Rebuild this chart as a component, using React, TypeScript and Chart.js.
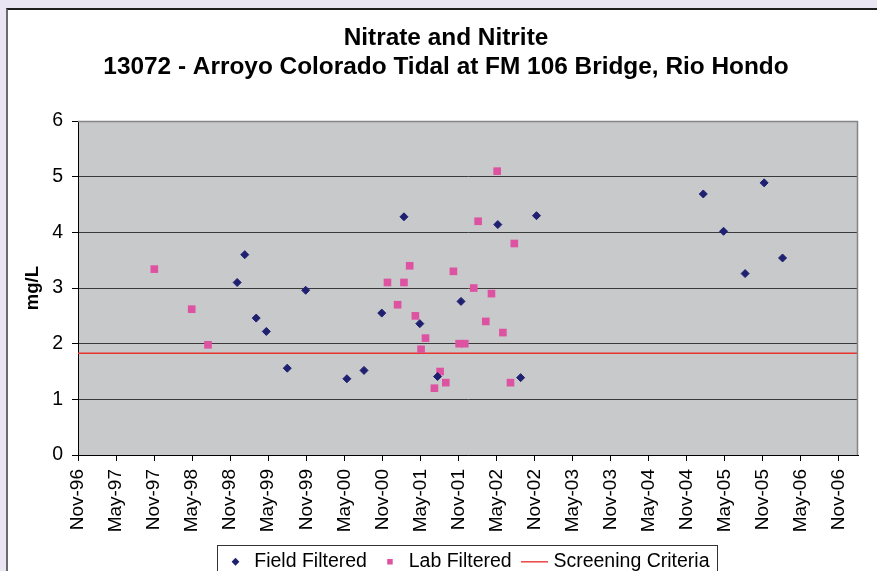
import React, { useEffect, useRef } from 'react';
import { Chart, registerables } from 'chart.js';

Chart.register(...registerables);

const FONT = '"Liberation Sans", Arial, Helvetica, sans-serif';

const titleLines = ['Nitrate and Nitrite', '13072 - Arroyo Colorado Tidal at FM 106 Bridge, Rio Hondo'];
const yAxisTitle = 'mg/L';

const tickLabels = [
  'Nov-96', 'May-97', 'Nov-97', 'May-98', 'Nov-98', 'May-99', 'Nov-99', 'May-00', 'Nov-00', 'May-01',
  'Nov-01', 'May-02', 'Nov-02', 'May-03', 'Nov-03', 'May-04', 'Nov-04', 'May-05', 'Nov-05', 'May-06', 'Nov-06',
];

const fieldDates = [
  '1998-12-04', '1999-01-10', '1999-03-04', '1999-04-22', '1999-08-01', '1999-10-28', '2000-05-13',
  '2000-08-04', '2000-10-28', '2001-02-13', '2001-04-28', '2001-07-22', '2001-11-13', '2002-05-07',
  '2002-08-25', '2002-11-10', '2005-01-19', '2005-04-25', '2005-08-07', '2005-11-07', '2006-02-04',
];
const fieldValues = [
  3.10, 3.60, 2.46, 2.22, 1.56, 2.96, 1.37,
  1.52, 2.55, 4.28, 2.36, 1.41, 2.76, 4.14,
  1.39, 4.30, 4.69, 4.02, 3.26, 4.89, 3.54,
];

const labDates = [
  '1997-11-02', '1998-04-29', '1998-07-16', '2000-11-25', '2001-01-13', '2001-02-13', '2001-03-10',
  '2001-04-07', '2001-05-04', '2001-05-25', '2001-07-07', '2001-08-04', '2001-09-01', '2001-10-07',
  '2001-11-04', '2001-12-01', '2002-01-13', '2002-02-04', '2002-03-10', '2002-04-07', '2002-05-04',
  '2002-06-01', '2002-07-07', '2002-07-25',
];
const labValues = [
  3.34, 2.62, 1.98, 3.10, 2.70, 3.10, 3.40,
  2.50, 1.90, 2.10, 1.20, 1.50, 1.30, 3.30,
  2.00, 2.00, 3.00, 4.20, 2.40, 2.90, 5.10,
  2.20, 1.30, 3.80,
];

const screeningValue = 1.83;

// axis in months since Nov-1996; axis ends about Feb-2007
const X_MIN = 0;
const X_MAX = 123;
const Y_MIN = 0;
const Y_MAX = 6;

const toMonths = (s: string) => {
  const [y, m, d] = s.split('-').map(Number);
  return (y - 1996) * 12 + (m - 11) + (d - 1) / 30;
};

export default function App() {
  const ref = useRef<HTMLCanvasElement | null>(null);

  useEffect(() => {
    if (!ref.current) return;

    const lineImg = document.createElement('canvas');
    lineImg.width = 27;
    lineImg.height = 2;
    const lctx = lineImg.getContext('2d')!;
    lctx.fillStyle = '#E8362F';
    lctx.fillRect(0, 0, 27, 1.5);

    const framePlugin = {
      id: 'frame',
      beforeDraw(chart: any) {
        const { ctx, chartArea } = chart;
        ctx.save();
        ctx.fillStyle = '#C8C9CB';
        ctx.fillRect(chartArea.left, chartArea.top, chartArea.right - chartArea.left, chartArea.bottom - chartArea.top);
        ctx.restore();
      },
      afterDraw(chart: any) {
        const { ctx, chartArea } = chart;
        ctx.save();
        ctx.strokeStyle = '#858585';
        ctx.lineWidth = 1.5;
        ctx.beginPath();
        ctx.moveTo(chartArea.left, chartArea.top + 0.5);
        ctx.lineTo(chartArea.right - 0.5, chartArea.top + 0.5);
        ctx.lineTo(chartArea.right - 0.5, chartArea.bottom);
        ctx.stroke();
        const hb = chart.legend && chart.legend.legendHitBoxes;
        if (hb && hb.length) {
          const first = hb[0];
          const last = hb[hb.length - 1];
          const left = Math.round(first.left - 10) + 0.5;
          const right = Math.round(last.left + last.width + 8) + 0.5;
          const top = Math.round(first.top - 7) + 0.5;
          ctx.strokeStyle = '#333';
          ctx.lineWidth = 1;
          ctx.strokeRect(left, top, right - left, 80);
        }
        ctx.restore();
      },
    };

    const chart = new Chart(ref.current, {
      type: 'scatter',
      data: {
        datasets: [
          {
            label: 'Field Filtered',
            data: fieldDates.map((d, i) => ({ x: toMonths(d), y: fieldValues[i] })),
            pointStyle: 'rectRot',
            pointRadius: 4,
            pointHoverRadius: 4,
            backgroundColor: '#1F2070',
            borderColor: '#1F2070',
            borderWidth: 1,
          },
          {
            label: 'Lab Filtered',
            data: labDates.map((d, i) => ({ x: toMonths(d), y: labValues[i] })),
            pointStyle: 'rect',
            pointRadius: 5.4,
            pointHoverRadius: 5.4,
            backgroundColor: '#DD52A1',
            borderColor: '#DD52A1',
            borderWidth: 0,
          },
          {
            type: 'line',
            label: 'Screening Criteria',
            data: [
              { x: X_MIN, y: screeningValue },
              { x: X_MAX, y: screeningValue },
            ],
            showLine: true,
            borderColor: '#E8362F',
            backgroundColor: '#E8362F',
            borderWidth: 1.5,
            pointRadius: 0,
            pointHoverRadius: 0,
            fill: false,
          } as any,
        ],
      },
      options: {
        animation: false,
        responsive: false,
        devicePixelRatio: 1,
        events: [],
        layout: { padding: { left: 34, right: 19, top: 0, bottom: 0.5 } },
        scales: {
          x: {
            type: 'linear',
            min: X_MIN,
            max: X_MAX,
            afterBuildTicks: (s: any) => {
              s.ticks = tickLabels.map((_, i) => ({ value: i * 6 }));
            },
            afterFit: (s: any) => {
              s.height = 83;
            },
            ticks: {
              autoSkip: false,
              maxRotation: 90,
              minRotation: 90,
              padding: 8,
              color: '#000',
              font: { family: FONT, size: 19 },
              callback: (v: any) => tickLabels[Math.round(Number(v) / 6)] ?? '',
            },
            grid: { drawOnChartArea: false, drawTicks: true, tickLength: 6, tickColor: '#000' },
            border: { display: true, color: '#000', width: 1 },
          },
          y: {
            min: Y_MIN,
            max: Y_MAX,
            afterFit: (s: any) => {
              s.width = 44;
            },
            ticks: {
              stepSize: 1,
              padding: 9,
              color: '#000',
              font: { family: FONT, size: 19.5 },
            },
            grid: {
              color: (c: any) => (c.tick && c.tick.value === Y_MAX ? '#8a8a8a' : '#3a3a3a'),
              tickColor: '#000',
              tickLength: 6,
              lineWidth: 1,
            },
            border: { display: true, color: '#000', width: 1 },
            title: {
              display: true,
              text: yAxisTitle,
              color: '#000',
              font: { family: FONT, size: 18.5, weight: 'bold' },
              padding: { top: -12, bottom: 0 },
            },
          },
        },
        plugins: {
          title: {
            display: true,
            text: titleLines,
            color: '#000',
            font: { family: FONT, size: 24.4, weight: 'bold', lineHeight: 1.19 },
            padding: { top: 24, bottom: 39 },
          },
          legend: {
            display: true,
            position: 'bottom',
            fullSize: false,
            labels: {
              usePointStyle: true,
              boxWidth: 18,
              boxHeight: 5.5,
              padding: 14,
              color: '#000',
              font: { family: FONT, size: 19.5 },
              generateLabels: (c: any) => {
                const items = (Chart.defaults.plugins.legend.labels as any).generateLabels(c);
                items.forEach((it: any) => {
                  it.lineWidth = 0;
                });
                if (items[2]) items[2].pointStyle = lineImg;
                return items;
              },
            },
          },
          tooltip: { enabled: false },
        },
      } as any,
      plugins: [framePlugin],
    });

    return () => chart.destroy();
  }, []);

  return (
    <div
      style={{
        position: 'fixed',
        left: 0,
        top: 0,
        width: 877,
        height: 571,
        overflow: 'hidden',
        background: '#E9E5F3',
      }}
    >
      <div
        style={{
          position: 'absolute',
          left: 6,
          top: 8,
          width: 900,
          height: 600,
          background: '#fff',
          borderLeft: '2px solid #6b6b6b',
          borderTop: '2px solid #1e1e1e',
        }}
      />
      <canvas ref={ref} width={877} height={582} style={{ position: 'absolute', left: 0, top: 0 }} />
    </div>
  );
}
